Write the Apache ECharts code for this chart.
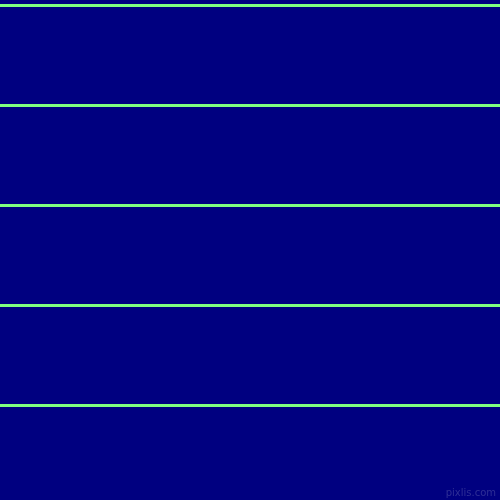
<!DOCTYPE html>
<html>
<head>
<meta charset="utf-8">
<script src="https://cdn.jsdelivr.net/npm/echarts@6/dist/echarts.min.js"></script>
<style>html,body{margin:0;padding:0;background:#000080;}#c{width:500px;height:500px;}</style>
</head>
<body>
<div id="c"></div>
<script>
const lineLevels = [5.5, 105.5, 205.5, 305.5, 405.5];
const axisRange = [0, 500];
const watermark = 'pixlis.com';

const chart = echarts.init(document.getElementById('c'), null, {renderer: 'canvas'});
chart.setOption({
  backgroundColor: '#000080',
  animation: false,
  grid: {left: 0, right: 0, top: 0, bottom: 0},
  xAxis: {type: 'value', min: axisRange[0], max: axisRange[1], show: false},
  yAxis: {type: 'value', min: axisRange[0], max: axisRange[1], inverse: true, show: false},
  series: lineLevels.map(v => ({
    type: 'line',
    silent: true,
    showSymbol: false,
    symbol: 'none',
    clip: false,
    lineStyle: {color: '#80ff80', width: 3, cap: 'butt'},
    emphasis: {disabled: true},
    data: [[axisRange[0], v], [axisRange[1], v]]
  })),
  graphic: [{
    type: 'text',
    right: 4,
    bottom: 2,
    style: {text: watermark, fill: 'rgba(150,150,200,0.3)', font: '10px "DejaVu Sans"'}
  }]
});
</script>
</body>
</html>
